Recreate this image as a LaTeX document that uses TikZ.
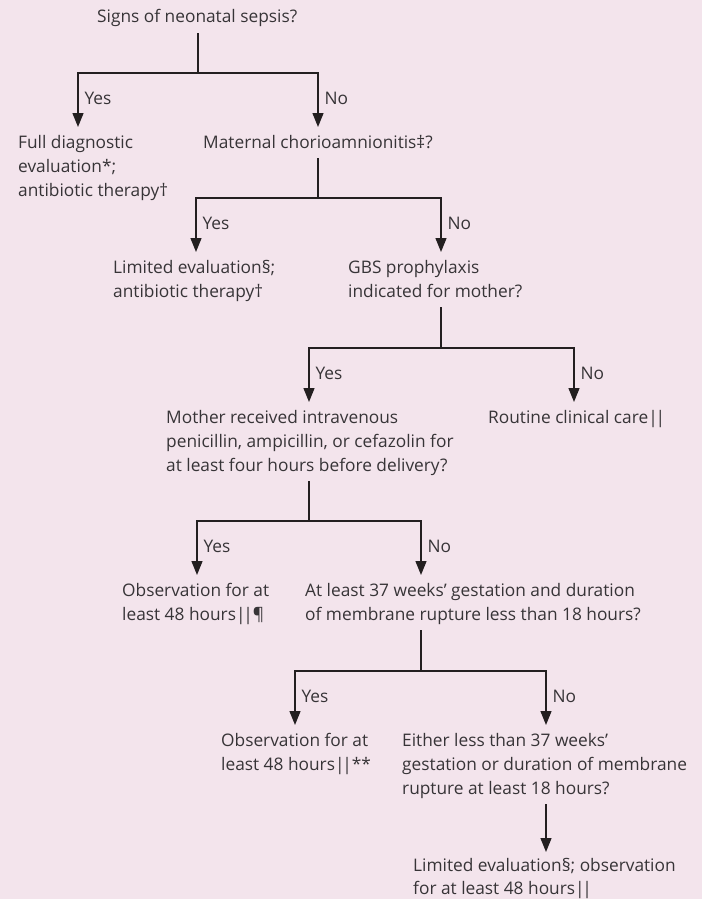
\documentclass[tikz,border=0pt]{standalone}
\usepackage{fontspec}
\setmainfont{Open Sans}
\usetikzlibrary{arrows.meta}
\definecolor{paper}{RGB}{243,228,236}
\definecolor{ink}{RGB}{55,52,55}
\definecolor{wire}{RGB}{35,31,32}
% left-aligned block of lines whose baseline is the first line
\newcommand\flowtext[1]{\begin{tabular}[t]{@{}l@{}}#1\end{tabular}}
\newcommand\dbar{|\kern-2.2pt|}
\begin{document}
\begin{tikzpicture}[x=1pt,y=-1pt,
  txt/.style={anchor=base west, inner sep=0pt, text=ink,
    font=\fontsize{17.3}{24}\selectfont},
  lbl/.style={anchor=west, inner sep=0pt, xshift=6pt, text=ink,
    font=\fontsize{17.3}{24}\selectfont},
  link/.style={draw=wire, line width=1.3pt},
  drop/.style={link, shorten <=3pt},
  arr/.style={link, -{Triangle[width=11pt,length=14pt]}, shorten >=4pt},
]
\fill[paper] (0,0) rectangle (702,899);
\useasboundingbox (0,0) rectangle (702,899);

% decision and outcome texts
\node[txt] (signs)   at (97,23)   {\flowtext{Signs of neonatal sepsis?}};
\node[txt] (full)    at (18,148)  {\flowtext{Full diagnostic\\evaluation*;\\antibiotic therapy†}};
\node[txt] (chorio)  at (203,148) {\flowtext{Maternal chorioamnionitis‡?}};
\node[txt] (ltd1)    at (113,273) {\flowtext{Limited evaluation§;\\antibiotic therapy†}};
\node[txt] (gbs)     at (348,273) {\flowtext{GBS prophylaxis\\indicated for mother?}};
\node[txt] (iap)     at (166,423) {\flowtext{Mother received intravenous\\penicillin, ampicillin, or cefazolin for\\at least four hours before delivery?}};
\node[txt] (routine) at (488,423) {\flowtext{Routine clinical care\dbar}};
\node[txt] (obs1)    at (122,596) {\flowtext{Observation for at\\least 48 hours\dbar¶}};
\node[txt] (term)    at (305,596) {\flowtext{At least 37 weeks’ gestation and duration\\of membrane rupture less than 18 hours?}};
\node[txt] (obs2)    at (221,746) {\flowtext{Observation for at\\least 48 hours\dbar**}};
\node[txt] (risk)    at (402,746) {\flowtext{Either less than 37 weeks’\\gestation or duration of membrane\\rupture at least 18 hours?}};
\node[txt] (ltd2)    at (413,871) {\flowtext{Limited evaluation§; observation\\[-1pt]for at least 48 hours\dbar}};

% branching points
\coordinate (j1) at (198,73);
\coordinate (j2) at (318,198);
\coordinate (j3) at (441,348);
\coordinate (j4) at (309,521);
\coordinate (j5) at (421,671);

\draw[drop] (signs.south -| j1) -- (j1);
\draw[arr] (j1) -| (full.north -| 78,0) node[lbl,pos=0.715] {Yes};
\draw[arr] (j1) -| (chorio.north -| 318,0) node[lbl,pos=0.715] {No};

\draw[drop] (chorio.south -| j2) -- (j2);
\draw[arr] (j2) -| (ltd1.north -| 196,0) node[lbl,pos=0.715] {Yes};
\draw[arr] (j2) -| (gbs.north -| 441,0) node[lbl,pos=0.715] {No};

\draw[drop] (gbs.south -| j3) -- (j3);
\draw[arr] (j3) -| (iap.north -| 309,0) node[lbl,pos=0.715] {Yes};
\draw[arr] (j3) -| (routine.north -| 574,0) node[lbl,pos=0.715] {No};

\draw[drop] (iap.south -| j4) -- (j4);
\draw[arr] (j4) -| (obs1.north -| 197,0) node[lbl,pos=0.715] {Yes};
\draw[arr] (j4) -| (term.north -| 421,0) node[lbl,pos=0.715] {No};

\draw[drop] (term.south -| j5) -- (j5);
\draw[arr] (j5) -| (obs2.north -| 295,0) node[lbl,pos=0.715] {Yes};
\draw[arr] (j5) -| (risk.north -| 546,0) node[lbl,pos=0.715] {No};

\draw[arr, shorten <=3pt, shorten >=2pt] (risk.south -| 546,0) -- (ltd2.north -| 546,0);
\end{tikzpicture}
\end{document}
